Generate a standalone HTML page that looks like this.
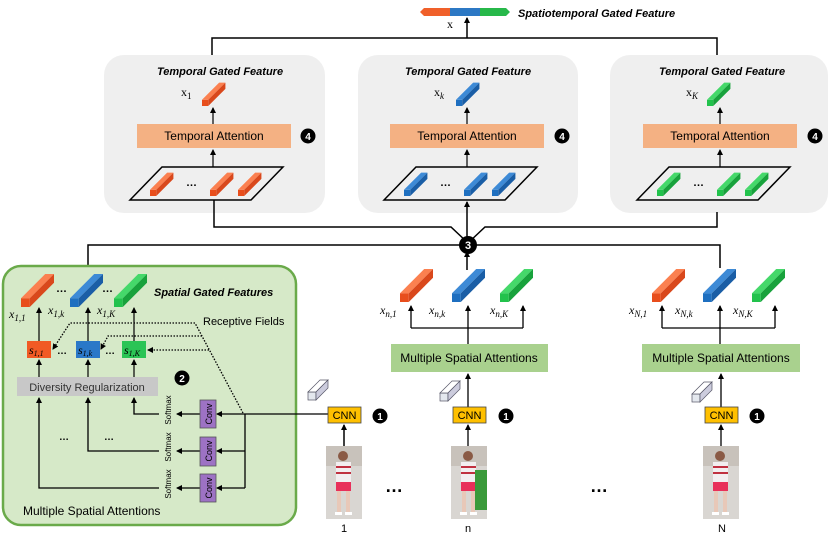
<!DOCTYPE html>
<html><head><meta charset="utf-8"><style>
html,body{margin:0;padding:0;background:#fff}
svg{display:block}
text{font-family:"Liberation Sans",sans-serif}
.m{font-family:"Liberation Serif",serif;font-style:italic;font-size:12px}
.r{font-family:"Liberation Serif",serif;font-size:12px}
.ti{font-size:11px;font-weight:bold;font-style:italic}
</style></head><body>
<svg width="830" height="543" viewBox="0 0 830 543" xmlns="http://www.w3.org/2000/svg">
<defs>
<marker id="ar" markerWidth="6" markerHeight="6" refX="5" refY="3" orient="auto" markerUnits="userSpaceOnUse"><path d="M0,0 L6,3 L0,6 z" fill="#000"/></marker>
<g id="co"><rect x="0" y="-8" width="8" height="8" fill="#e84e1c"/><polygon points="0,-8 22,-30 30,-30 8,-8" fill="#fb8050"/><polygon points="8,-8 30,-30 30,-22 8,0" fill="#d9481c"/></g>
<g id="cb"><rect x="0" y="-8" width="8" height="8" fill="#1e6fc0"/><polygon points="0,-8 22,-30 30,-30 8,-8" fill="#3d8ad6"/><polygon points="8,-8 30,-30 30,-22 8,0" fill="#1a5ea6"/></g>
<g id="cg"><rect x="0" y="-8" width="8" height="8" fill="#22c24c"/><polygon points="0,-8 22,-30 30,-30 8,-8" fill="#45d86a"/><polygon points="8,-8 30,-30 30,-22 8,0" fill="#18a23c"/></g>
<g id="cw"><rect x="0" y="-8" width="8" height="8" fill="#e4e8ee" stroke="#556" stroke-width="0.7"/><polygon points="0,-8 12,-20 20,-20 8,-8" fill="#fff" stroke="#556" stroke-width="0.7"/><polygon points="8,-8 20,-20 20,-12 8,0" fill="#ccd" stroke="#556" stroke-width="0.7"/></g>
<g id="ped"><rect x="0" y="0" width="36" height="73" fill="#d9d6d2"/><rect x="0" y="0" width="36" height="20" fill="#c8c2bb"/><circle cx="17" cy="10" r="5" fill="#8a5a45"/><rect x="10" y="16" width="15" height="20" fill="#f2eef0"/><rect x="10" y="20" width="15" height="2" fill="#c03040"/><rect x="10" y="26" width="15" height="2" fill="#c03040"/><rect x="10" y="36" width="15" height="9" fill="#e8305a"/><rect x="11" y="45" width="4" height="22" fill="#e8c8b8"/><rect x="20" y="45" width="4" height="22" fill="#e8c8b8"/><rect x="9" y="66" width="7" height="3" fill="#fff"/><rect x="19" y="66" width="7" height="3" fill="#fff"/></g>
<g id="n1"><circle r="7.5" fill="#000"/></g>
</defs>

<polygon points="420,12 424,8 450,8 450,16 424,16" fill="#f0602a"/>
<rect x="450" y="8" width="30" height="8" fill="#2c78c4"/>
<polygon points="480,8 506,8 510,12 506,16 480,16" fill="#27b84a"/>
<text x="447" y="28" class="r">x</text>
<text x="518" y="17" class="ti">Spatiotemporal Gated Feature</text>
<line x1="467" y1="38" x2="467" y2="18" stroke="#000" stroke-width="1.5" marker-end="url(#ar)"/>
<polyline points="212,56 212,38 717,38 717,56" fill="none" stroke="#000" stroke-width="1.5"/>

<g>
<rect x="104" y="55" width="221" height="158" rx="20" fill="#efefef"/>
<rect x="358" y="55" width="220" height="158" rx="20" fill="#efefef"/>
<rect x="610" y="55" width="218" height="158" rx="20" fill="#efefef"/>
<text x="220" y="75" class="ti" text-anchor="middle">Temporal Gated Feature</text>
<text x="468" y="75" class="ti" text-anchor="middle">Temporal Gated Feature</text>
<text x="722" y="75" class="ti" text-anchor="middle">Temporal Gated Feature</text>
<text x="181" y="96" class="r">x<tspan font-size="9" dy="3">1</tspan></text>
<text x="434" y="96" class="r">x<tspan font-size="9" dy="3" font-style="italic">k</tspan></text>
<text x="686" y="96" class="r">x<tspan font-size="9" dy="3" font-style="italic">K</tspan></text>
<use href="#co" transform="translate(202,106) scale(0.78)"/>
<use href="#cb" transform="translate(456,106) scale(0.78)"/>
<use href="#cg" transform="translate(707,106) scale(0.78)"/>
<line x1="213" y1="124" x2="213" y2="108" stroke="#000" stroke-width="1.2" marker-end="url(#ar)"/>
<line x1="467" y1="124" x2="467" y2="108" stroke="#000" stroke-width="1.2" marker-end="url(#ar)"/>
<line x1="720" y1="124" x2="720" y2="108" stroke="#000" stroke-width="1.2" marker-end="url(#ar)"/>
<rect x="137" y="124" width="154" height="24" fill="#f4b183"/>
<rect x="390" y="124" width="154" height="24" fill="#f4b183"/>
<rect x="643" y="124" width="154" height="24" fill="#f4b183"/>
<text x="214" y="140" font-size="12" text-anchor="middle">Temporal Attention</text>
<text x="467" y="140" font-size="12" text-anchor="middle">Temporal Attention</text>
<text x="720" y="140" font-size="12" text-anchor="middle">Temporal Attention</text>
<use href="#n1" x="308" y="136"/><text x="308" y="140" font-size="10" fill="#fff" text-anchor="middle" font-weight="bold">4</text>
<use href="#n1" x="562" y="136"/><text x="562" y="140" font-size="10" fill="#fff" text-anchor="middle" font-weight="bold">4</text>
<use href="#n1" x="815" y="136"/><text x="815" y="140" font-size="10" fill="#fff" text-anchor="middle" font-weight="bold">4</text>
<line x1="213" y1="167" x2="213" y2="150" stroke="#000" stroke-width="1.2" marker-end="url(#ar)"/>
<line x1="467" y1="167" x2="467" y2="150" stroke="#000" stroke-width="1.2" marker-end="url(#ar)"/>
<line x1="720" y1="167" x2="720" y2="150" stroke="#000" stroke-width="1.2" marker-end="url(#ar)"/>
<polygon points="130,200 162,167 283,167 251,200" fill="none" stroke="#000" stroke-width="1.5"/>
<polygon points="384,200 416,167 537,167 505,200" fill="none" stroke="#000" stroke-width="1.5"/>
<polygon points="637,200 669,167 790,167 758,200" fill="none" stroke="#000" stroke-width="1.5"/>
<use href="#co" transform="translate(150,196) scale(0.78)"/><use href="#co" transform="translate(210,196) scale(0.78)"/><use href="#co" transform="translate(238,196) scale(0.78)"/>
<use href="#cb" transform="translate(404,196) scale(0.78)"/><use href="#cb" transform="translate(464,196) scale(0.78)"/><use href="#cb" transform="translate(492,196) scale(0.78)"/>
<use href="#cg" transform="translate(657,196) scale(0.78)"/><use href="#cg" transform="translate(717,196) scale(0.78)"/><use href="#cg" transform="translate(745,196) scale(0.78)"/>
<text x="186" y="186" font-size="11" font-weight="bold">…</text>
<text x="440" y="186" font-size="11" font-weight="bold">…</text>
<text x="693" y="186" font-size="11" font-weight="bold">…</text>
</g>

<polyline points="214,200 214,227 451,227 468,243" fill="none" stroke="#000" stroke-width="1.5"/>
<polyline points="717,212 717,227 485,227 468,243" fill="none" stroke="#000" stroke-width="1.5"/>
<polyline points="88,266 88,245 720,245 720,268" fill="none" stroke="#000" stroke-width="1.5"/>
<line x1="467" y1="238" x2="467" y2="202" stroke="#000" stroke-width="1.5" marker-end="url(#ar)"/>
<line x1="467" y1="270" x2="467" y2="252" stroke="#000" stroke-width="1.5" marker-end="url(#ar)"/>
<circle cx="468" cy="245" r="9" fill="#000"/><text x="468" y="249" font-size="11" fill="#fff" text-anchor="middle" font-weight="bold">3</text>

<rect x="3" y="266" width="293" height="259" rx="18" fill="#d6e9c8" stroke="#6aaa4a" stroke-width="2.5"/>
<use href="#co" transform="translate(21,307) scale(1.1)"/>
<use href="#cb" transform="translate(70,307) scale(1.1)"/>
<use href="#cg" transform="translate(114,307) scale(1.1)"/>
<text x="56" y="292" font-size="11" font-weight="bold">…</text>
<text x="102" y="292" font-size="11" font-weight="bold">…</text>
<text x="154" y="296" class="ti">Spatial Gated Features</text>
<text x="9" y="318" class="m">x<tspan font-size="9" dy="3">1,1</tspan></text>
<text x="48" y="314" class="m">x<tspan font-size="9" dy="3">1,k</tspan></text>
<text x="97" y="314" class="m">x<tspan font-size="9" dy="3">1,K</tspan></text>
<text x="203" y="325" font-size="11">Receptive Fields</text>
<line x1="39" y1="341" x2="39" y2="308" stroke="#000" stroke-width="1.2" marker-end="url(#ar)"/>
<line x1="88" y1="341" x2="88" y2="308" stroke="#000" stroke-width="1.2" marker-end="url(#ar)"/>
<line x1="134" y1="341" x2="134" y2="308" stroke="#000" stroke-width="1.2" marker-end="url(#ar)"/>
<rect x="27" y="341" width="24" height="17" fill="#f15a24"/>
<rect x="76" y="341" width="24" height="17" fill="#2a78c8"/>
<rect x="122" y="341" width="24" height="17" fill="#2bc455"/>
<text x="29" y="354" class="m" font-size="11">s<tspan font-size="8" dy="2">1,1</tspan></text>
<text x="78" y="354" class="m" font-size="11">s<tspan font-size="8" dy="2">1,k</tspan></text>
<text x="124" y="354" class="m" font-size="11">s<tspan font-size="8" dy="2">1,K</tspan></text>
<text x="57" y="354" font-size="10" font-weight="bold">…</text>
<text x="105" y="354" font-size="10" font-weight="bold">…</text>
<g stroke="#000" stroke-width="1.3" stroke-dasharray="1.5,1.5" fill="none">
<polyline points="243,413 195,323 70,323 53,349" marker-end="url(#ar)"/>
<polyline points="202,336 108,336 101,349" marker-end="url(#ar)"/>
<polyline points="209,350 148,350" marker-end="url(#ar)"/>
</g>
<rect x="17" y="377" width="141" height="19" fill="#c8c8c8"/>
<text x="87" y="391" font-size="11" text-anchor="middle" fill="#333">Diversity Regularization</text>
<use href="#n1" x="182" y="378"/><text x="182" y="382" font-size="10" fill="#fff" text-anchor="middle" font-weight="bold">2</text>
<line x1="39" y1="377" x2="39" y2="360" stroke="#000" stroke-width="1.2" marker-end="url(#ar)"/>
<line x1="88" y1="377" x2="88" y2="360" stroke="#000" stroke-width="1.2" marker-end="url(#ar)"/>
<line x1="134" y1="377" x2="134" y2="360" stroke="#000" stroke-width="1.2" marker-end="url(#ar)"/>
<g stroke="#000" stroke-width="1.3" fill="none">
<polyline points="159,414 134,414 134,398" marker-end="url(#ar)"/>
<polyline points="159,451 88,451 88,398" marker-end="url(#ar)"/>
<polyline points="159,488 39,488 39,398" marker-end="url(#ar)"/>
<line x1="200" y1="414" x2="177" y2="414" marker-end="url(#ar)"/>
<line x1="200" y1="451" x2="177" y2="451" marker-end="url(#ar)"/>
<line x1="200" y1="488" x2="177" y2="488" marker-end="url(#ar)"/>
<line x1="328" y1="414" x2="217" y2="414" marker-end="url(#ar)"/>
<polyline points="245,414 245,488"/>
<line x1="245" y1="451" x2="217" y2="451" marker-end="url(#ar)"/>
<line x1="245" y1="488" x2="217" y2="488" marker-end="url(#ar)"/>
</g>
<rect x="200" y="400" width="16" height="28" fill="#9d72c4" stroke="#555" stroke-width="0.8"/>
<rect x="200" y="437" width="16" height="29" fill="#9d72c4" stroke="#555" stroke-width="0.8"/>
<rect x="200" y="474" width="16" height="28" fill="#9d72c4" stroke="#555" stroke-width="0.8"/>
<text transform="translate(212,414) rotate(-90)" font-size="9" text-anchor="middle">Conv</text>
<text transform="translate(212,451) rotate(-90)" font-size="9" text-anchor="middle">Conv</text>
<text transform="translate(212,488) rotate(-90)" font-size="9" text-anchor="middle">Conv</text>
<text transform="translate(171,410) rotate(-90)" font-size="8" text-anchor="middle">Softmax</text>
<text transform="translate(171,447) rotate(-90)" font-size="8" text-anchor="middle">Softmax</text>
<text transform="translate(171,484) rotate(-90)" font-size="8" text-anchor="middle">Softmax</text>
<text x="59" y="440" font-size="10" font-weight="bold">…</text>
<text x="104" y="440" font-size="10" font-weight="bold">…</text>
<text x="23" y="515" font-size="12">Multiple Spatial Attentions</text>

<use href="#cw" transform="translate(308,400)"/>
<rect x="328" y="407" width="33" height="16" fill="#ffc000" stroke="#444" stroke-width="0.8"/>
<text x="344.5" y="419" font-size="11" text-anchor="middle">CNN</text>
<use href="#n1" x="380" y="416"/><text x="380" y="420" font-size="10" fill="#fff" text-anchor="middle" font-weight="bold">1</text>
<line x1="344" y1="446" x2="344" y2="425" stroke="#000" stroke-width="1.5" marker-end="url(#ar)"/>
<use href="#ped" x="326" y="446"/>
<text x="344" y="532" font-size="11" text-anchor="middle">1</text>
<text x="385" y="492" font-size="18" font-weight="bold">…</text>
<text x="590" y="492" font-size="18" font-weight="bold">…</text>

<use href="#co" transform="translate(400,302) scale(1.1)"/>
<use href="#cb" transform="translate(452,302) scale(1.1)"/>
<use href="#cg" transform="translate(500,302) scale(1.1)"/>
<text x="380" y="314" class="m">x<tspan font-size="9" dy="3">n,1</tspan></text>
<text x="429" y="314" class="m">x<tspan font-size="9" dy="3">n,k</tspan></text>
<text x="490" y="314" class="m">x<tspan font-size="9" dy="3">n,K</tspan></text>
<g stroke="#000" stroke-width="1.3" fill="none">
<polyline points="411,328 523,328"/>
<line x1="411" y1="328" x2="411" y2="306" marker-end="url(#ar)"/>
<line x1="468" y1="344" x2="468" y2="306" marker-end="url(#ar)"/>
<line x1="523" y1="328" x2="523" y2="306" marker-end="url(#ar)"/>
<line x1="468" y1="407" x2="468" y2="374" marker-end="url(#ar)"/>
<line x1="468" y1="446" x2="468" y2="425" marker-end="url(#ar)"/>
</g>
<rect x="391" y="344" width="157" height="28" fill="#a9d18e"/>
<text x="469" y="362" font-size="12" text-anchor="middle">Multiple Spatial Attentions</text>
<use href="#cw" transform="translate(440,401)"/>
<rect x="453" y="407" width="33" height="16" fill="#ffc000" stroke="#444" stroke-width="0.8"/>
<text x="469.5" y="419" font-size="11" text-anchor="middle">CNN</text>
<use href="#n1" x="506" y="416"/><text x="506" y="420" font-size="10" fill="#fff" text-anchor="middle" font-weight="bold">1</text>
<use href="#ped" x="451" y="446"/>
<rect x="475" y="470" width="12" height="40" fill="#3a9a3a"/>
<text x="468" y="532" font-size="11" text-anchor="middle">n</text>

<use href="#co" transform="translate(652,302) scale(1.1)"/>
<use href="#cb" transform="translate(703,302) scale(1.1)"/>
<use href="#cg" transform="translate(752,302) scale(1.1)"/>
<text x="629" y="314" class="m">x<tspan font-size="9" dy="3">N,1</tspan></text>
<text x="675" y="314" class="m">x<tspan font-size="9" dy="3">N,k</tspan></text>
<text x="733" y="314" class="m">x<tspan font-size="9" dy="3">N,K</tspan></text>
<g stroke="#000" stroke-width="1.3" fill="none">
<polyline points="662,328 775,328"/>
<line x1="662" y1="328" x2="662" y2="306" marker-end="url(#ar)"/>
<line x1="720" y1="344" x2="720" y2="306" marker-end="url(#ar)"/>
<line x1="775" y1="328" x2="775" y2="306" marker-end="url(#ar)"/>
<line x1="721" y1="407" x2="721" y2="374" marker-end="url(#ar)"/>
<line x1="721" y1="446" x2="721" y2="425" marker-end="url(#ar)"/>
</g>
<rect x="642" y="344" width="158" height="28" fill="#a9d18e"/>
<text x="721" y="362" font-size="12" text-anchor="middle">Multiple Spatial Attentions</text>
<use href="#cw" transform="translate(692,402)"/>
<rect x="705" y="407" width="33" height="16" fill="#ffc000" stroke="#444" stroke-width="0.8"/>
<text x="721.5" y="419" font-size="11" text-anchor="middle">CNN</text>
<use href="#n1" x="757" y="416"/><text x="757" y="420" font-size="10" fill="#fff" text-anchor="middle" font-weight="bold">1</text>
<use href="#ped" x="703" y="446"/>
<text x="722" y="532" font-size="11" text-anchor="middle">N</text>
</svg>
</body></html>
